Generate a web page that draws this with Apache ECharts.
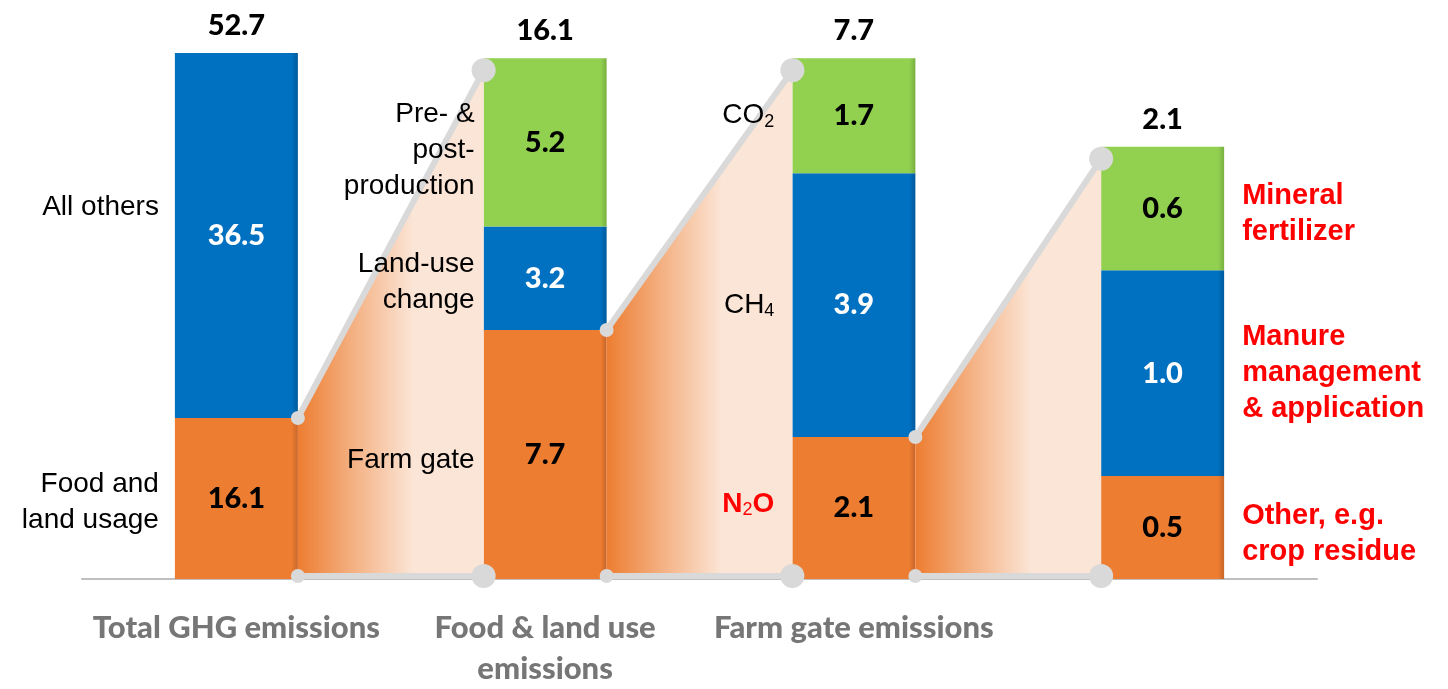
<!DOCTYPE html>
<html>
<head>
<meta charset="utf-8">
<script src="https://cdn.jsdelivr.net/npm/echarts@6/dist/echarts.min.js"></script>
<style>
html,body{margin:0;padding:0;background:#fff;}
#chart{width:1448px;height:689px;}
</style>
</head>
<body>
<div id="chart"></div>
<script>
// ---- data ----
const categories = ['Total GHG emissions', 'Food & land use\nemissions', 'Farm gate emissions', ''];
const totals = [52.7, 16.1, 7.7, 2.1];
const orangeVals = [16.1, 7.7, 2.1, 0.5];
const blueVals = [36.5, 3.2, 3.9, 1.0];
const greenVals = [null, 5.2, 1.7, 0.6];
// drawn height of each bar in the reference, relative to the "Food & land use" bar (=100)
const relHeights = [101, 100, 100, 83];
// annotation texts per bar, per segment (orange, blue, green)
const leftNotes = [
  ['Food and\nland usage', 'All others', ''],
  ['Farm gate', 'Land-use\nchange', 'Pre- &\npost-\nproduction'],
  ['{rb|N}{rs|2}{rb|O}', '{n|CH}{s|4}', '{n|CO}{s|2}'],
  ['', '', '']
];
const rightNotes = [
  ['', '', ''], ['', '', ''], ['', '', ''],
  ['Other, e.g.\ncrop residue', 'Manure\nmanagement\n& application', 'Mineral\nfertilizer']
];

// ---- styles ----
const ORANGE = '#ED7D31', BLUE = '#0070C0', GREEN = '#92D050';
const BAR_W = 123;
const NUM_FONT = 'Lato';
const NOTE_FONT = '"Liberation Sans", Arial, sans-serif';
const NOTE_GAP = [16, 9, 18, 18];          // px between note text and bar, per bar
const NOTE_SHIFT = {'0-1': -28, '0-0': 4, '1-2': 8, '1-1': 4, '1-0': 6, '2-0': -4, '3-2': 6, '3-0': 6}; // px vertical nudges

const segs = [orangeVals, blueVals, greenVals];
function segSum(i) { return segs.reduce((a, s) => a + (s[i] || 0), 0); }
function scaled(i, v) { return v == null ? null : v / segSum(i) * relHeights[i]; }
function stackTop(i, k) { let t = 0; for (let s = 0; s <= k; s++) t += scaled(i, segs[s][i]) || 0; return t; }

function shade(base, dark) {
  return new echarts.graphic.LinearGradient(0, 0, 1, 0, [
    {offset: 0, color: base}, {offset: 0.95, color: base}, {offset: 1, color: dark}
  ]);
}

function barSeries(name, vals, color, dark, txtColor) {
  return {
    name, type: 'bar', stack: 'total', barWidth: BAR_W, z: 2,
    data: vals.map((v, i) => scaled(i, v)),
    itemStyle: {color: shade(color, dark)},
    label: {
      show: true, position: 'inside', color: txtColor,
      fontFamily: NUM_FONT, fontWeight: 900, fontSize: 29,
      formatter: p => vals[p.dataIndex] == null ? '' : vals[p.dataIndex].toFixed(1)
    }
  };
}

const connectorData = [];
for (let i = 0; i < categories.length - 1; i++) connectorData.push([i, stackTop(i, 0), relHeights[i + 1]]);

const noteData = [];
for (let i = 0; i < categories.length; i++) for (let k = 0; k < 3; k++) {
  if (leftNotes[i][k]) noteData.push([i, k, 'L']);
  if (rightNotes[i][k]) noteData.push([i, k, 'R']);
}

const GRAY = '#D9D9D9';
const chart = echarts.init(document.getElementById('chart'));
chart.setOption({
  animation: false,
  grid: {left: 82, right: 131, top: 53, bottom: 104},
  xAxis: {
    type: 'category', data: categories,
    axisTick: {show: false},
    axisLine: {lineStyle: {color: '#BFBFBF', width: 2}},
    axisLabel: {
      color: '#767676', fontFamily: NUM_FONT, fontWeight: 900, fontSize: 31,
      lineHeight: 41, margin: 28, interval: 0
    }
  },
  yAxis: {type: 'value', min: 0, max: 101, show: false, splitLine: {show: false}},
  series: [
    barSeries('orange', orangeVals, ORANGE, '#C8652A', '#000'),
    barSeries('blue', blueVals, BLUE, '#005A9C', '#fff'),
    barSeries('green', greenVals, GREEN, '#78B040', '#000'),
    {
      type: 'custom', z: 5, data: connectorData, silent: true,
      renderItem: function (params, api) {
        const i = api.value(0);
        const y0 = api.coord([i, 0])[1];
        const xR = api.coord([i, 0])[0] + BAR_W / 2;
        const xL = api.coord([i + 1, 0])[0] - BAR_W / 2;
        const yA = api.coord([i, api.value(1)])[1];
        const yB = api.coord([i + 1, api.value(2)])[1] + 12;
        const yb = y0 - 3;
        return {
          type: 'group', children: [
            {type: 'polygon', shape: {points: [[xR, yA], [xL, yB], [xL, y0], [xR, y0]]},
             style: {fill: new echarts.graphic.LinearGradient(0, 0, 1, 0, [
               {offset: 0, color: ORANGE}, {offset: 0.3, color: '#F4B183'},
               {offset: 0.62, color: '#FBE5D6'}, {offset: 1, color: '#FBE5D6'}])}},
            {type: 'line', shape: {x1: xR, y1: yA, x2: xL, y2: yB}, style: {stroke: GRAY, lineWidth: 6}},
            {type: 'line', shape: {x1: xR, y1: yb, x2: xL, y2: yb}, style: {stroke: GRAY, lineWidth: 6}},
            {type: 'circle', shape: {cx: xR, cy: yA, r: 7}, style: {fill: GRAY}},
            {type: 'circle', shape: {cx: xL, cy: yB, r: 12}, style: {fill: GRAY}},
            {type: 'circle', shape: {cx: xR, cy: yb, r: 7}, style: {fill: GRAY}},
            {type: 'circle', shape: {cx: xL, cy: yb, r: 12}, style: {fill: GRAY}}
          ]
        };
      }
    },
    {
      type: 'custom', z: 6, silent: true,
      data: totals.map((t, i) => [i, relHeights[i]]),
      renderItem: function (params, api) {
        const p = api.coord([api.value(0), api.value(1)]);
        return {type: 'text', style: {
          text: totals[params.dataIndex].toFixed(1), x: p[0], y: p[1] - 13,
          align: 'center', verticalAlign: 'bottom',
          font: '900 29px ' + NUM_FONT, fill: '#000'}};
      }
    },
    {
      type: 'custom', z: 6, silent: true, data: noteData,
      renderItem: function (params, api) {
        const d = noteData[params.dataIndex];
        const i = d[0], k = d[1], side = d[2];
        const lo = k === 0 ? 0 : stackTop(i, k - 1);
        const hi = stackTop(i, k);
        const c = api.coord([i, (lo + hi) / 2]);
        const isRight = side === 'R';
        const txt = isRight ? rightNotes[i][k] : leftNotes[i][k];
        const x = isRight ? c[0] + BAR_W / 2 + NOTE_GAP[i] : c[0] - BAR_W / 2 - NOTE_GAP[i];
        const dy = NOTE_SHIFT[i + '-' + k] || 0;
        return {type: 'text', style: {
          text: txt, x: x, y: c[1] + dy,
          align: isRight ? 'left' : 'right', verticalAlign: 'middle',
          fontFamily: NOTE_FONT, fontSize: isRight ? 29 : 28, lineHeight: 36,
          fontWeight: isRight ? 'bold' : 'normal',
          fill: isRight ? '#FF0000' : '#000',
          rich: {
            n: {fontFamily: NOTE_FONT, fontSize: 28, fill: '#000', lineHeight: 30},
            s: {fontFamily: NOTE_FONT, fontSize: 18, fill: '#000', verticalAlign: 'bottom', lineHeight: 18},
            rb: {fontFamily: NOTE_FONT, fontSize: 28, fontWeight: 'bold', fill: '#FF0000', lineHeight: 30},
            rs: {fontFamily: NOTE_FONT, fontSize: 18, fill: '#FF0000', verticalAlign: 'bottom', lineHeight: 18}
          }
        }};
      }
    }
  ]
});
</script>
</body>
</html>
